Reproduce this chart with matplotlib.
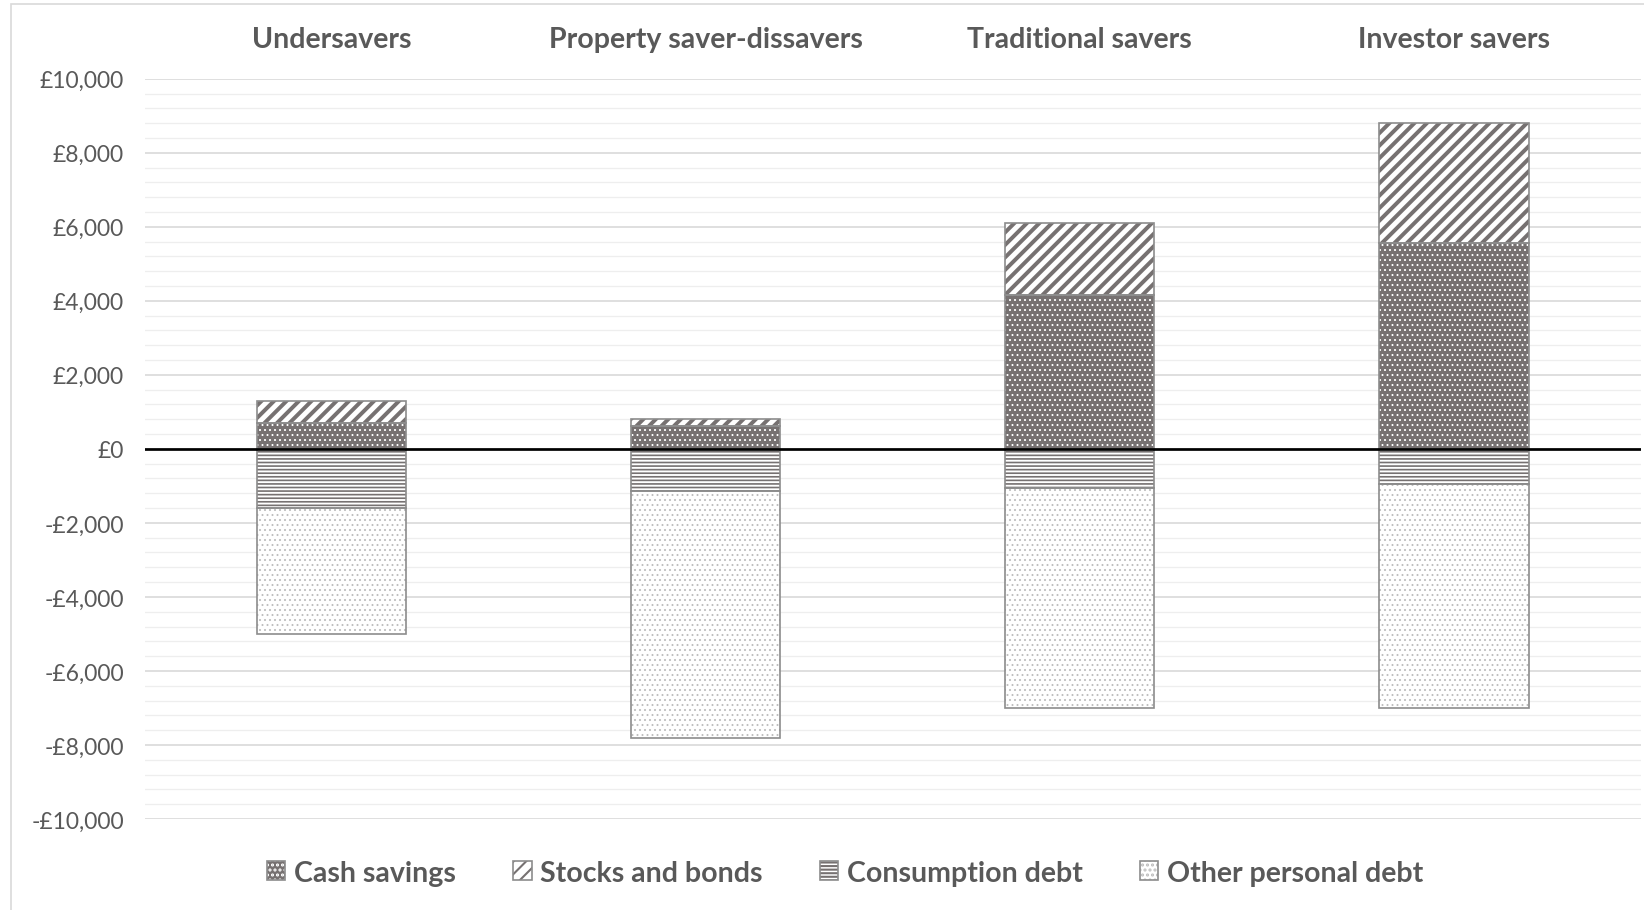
import matplotlib
matplotlib.use('Agg')
import matplotlib.pyplot as plt
from matplotlib.patches import Patch, Rectangle
from matplotlib.ticker import MultipleLocator, FuncFormatter
import matplotlib.transforms as mtransforms

# data (pounds)
groups = ['Undersavers', 'Property saver-dissavers', 'Traditional savers', 'Investor savers']
cash_savings = [700, 620, 4150, 5550]
stocks_bonds = [600, 180, 1950, 3250]
consumption_debt = [-1600, -1150, -1050, -960]
other_debt = [-3400, -6650, -5950, -6040]

plt.rcParams['font.family'] = ['Lato', 'DejaVu Sans']
plt.rcParams['hatch.linewidth'] = 1.0

txt = '#595959'
dark = '#767171'
edge = '#8c8c8c'

fig = plt.figure(figsize=(10.96, 6.0733), dpi=150)
ax = fig.add_axes([0.088, 0.0999, 0.910, 0.8126])

x = list(range(len(groups)))
w = 0.40


def hatched(bottom, vals, face, hcol, hatch, hlw):
    bars = ax.bar(x, vals, w, bottom=bottom, color=face, edgecolor=hcol,
                  hatch=hatch, linewidth=0, zorder=3)
    for b in bars:
        if hasattr(b, 'set_hatch_linewidth'):
            b.set_hatch_linewidth(hlw)
    ax.bar(x, vals, w, bottom=bottom, fill=False, edgecolor=edge,
           linewidth=0.8, zorder=4)


hatched(0, cash_savings, dark, 'white', '.....', 0.5)
hatched(cash_savings, stocks_bonds, 'white', dark, '////', 1.9)
hatched(0, consumption_debt, 'white', dark, '-------', 0.8)
hatched(consumption_debt, other_debt, 'white', '#bfbfbf', '.....', 0.5)

ax.set_xlim(-0.5, 3.5)
ax.set_ylim(-10000, 10000)
ax.yaxis.set_major_locator(MultipleLocator(2000))
ax.yaxis.set_minor_locator(MultipleLocator(400))


def money(v, pos):
    v = int(round(v))
    if v < 0:
        return '-£{:,}'.format(-v)
    return '£{:,}'.format(v)


ax.yaxis.set_major_formatter(FuncFormatter(money))
ax.grid(axis='y', which='major', color='#d9d9d9', linewidth=0.8, zorder=0)
ax.grid(axis='y', which='minor', color='#eeeeee', linewidth=0.6, zorder=0)
ax.axhline(0, color='black', linewidth=1.3, zorder=5)
ax.tick_params(axis='y', which='both', length=0, labelsize=11, labelcolor=txt, pad=10)
ax.set_xticks([])
for s in ax.spines.values():
    s.set_visible(False)

trans = mtransforms.blended_transform_factory(ax.transData, ax.transAxes)
for i, g in enumerate(groups):
    ax.text(i, 1.053, g, transform=trans, ha='center', va='center',
            fontsize=13.7, fontweight='bold', color=txt)

handles = [
    (Patch(facecolor=dark, edgecolor='white', hatch='.....', linewidth=0),
     Patch(fill=False, edgecolor=edge, linewidth=0.8)),
    (Patch(facecolor='white', edgecolor=dark, hatch='////', linewidth=0),
     Patch(fill=False, edgecolor=edge, linewidth=0.8)),
    (Patch(facecolor='white', edgecolor=dark, hatch='-------', linewidth=0),
     Patch(fill=False, edgecolor=edge, linewidth=0.8)),
    (Patch(facecolor='white', edgecolor='#bfbfbf', hatch='.....', linewidth=0),
     Patch(fill=False, edgecolor=edge, linewidth=0.8)),
]
labels = ['Cash savings', 'Stocks and bonds', 'Consumption debt', 'Other personal debt']
leg = fig.legend(handles, labels, loc='center', bbox_to_anchor=(0.514, 0.041), ncol=4,
                 frameon=False, handlelength=0.65, handleheight=0.65, handletextpad=0.3,
                 columnspacing=2.0, prop={'size': 13.7, 'weight': 'bold'})
for t in leg.get_texts():
    t.set_color(txt)

fig.patches.append(Rectangle((0.0064, -0.05), 1.2, 1.044, transform=fig.transFigure,
                             fill=False, edgecolor='#d9d9d9', linewidth=0.8))

fig.savefig('out.png', dpi=150)
plt.close()
